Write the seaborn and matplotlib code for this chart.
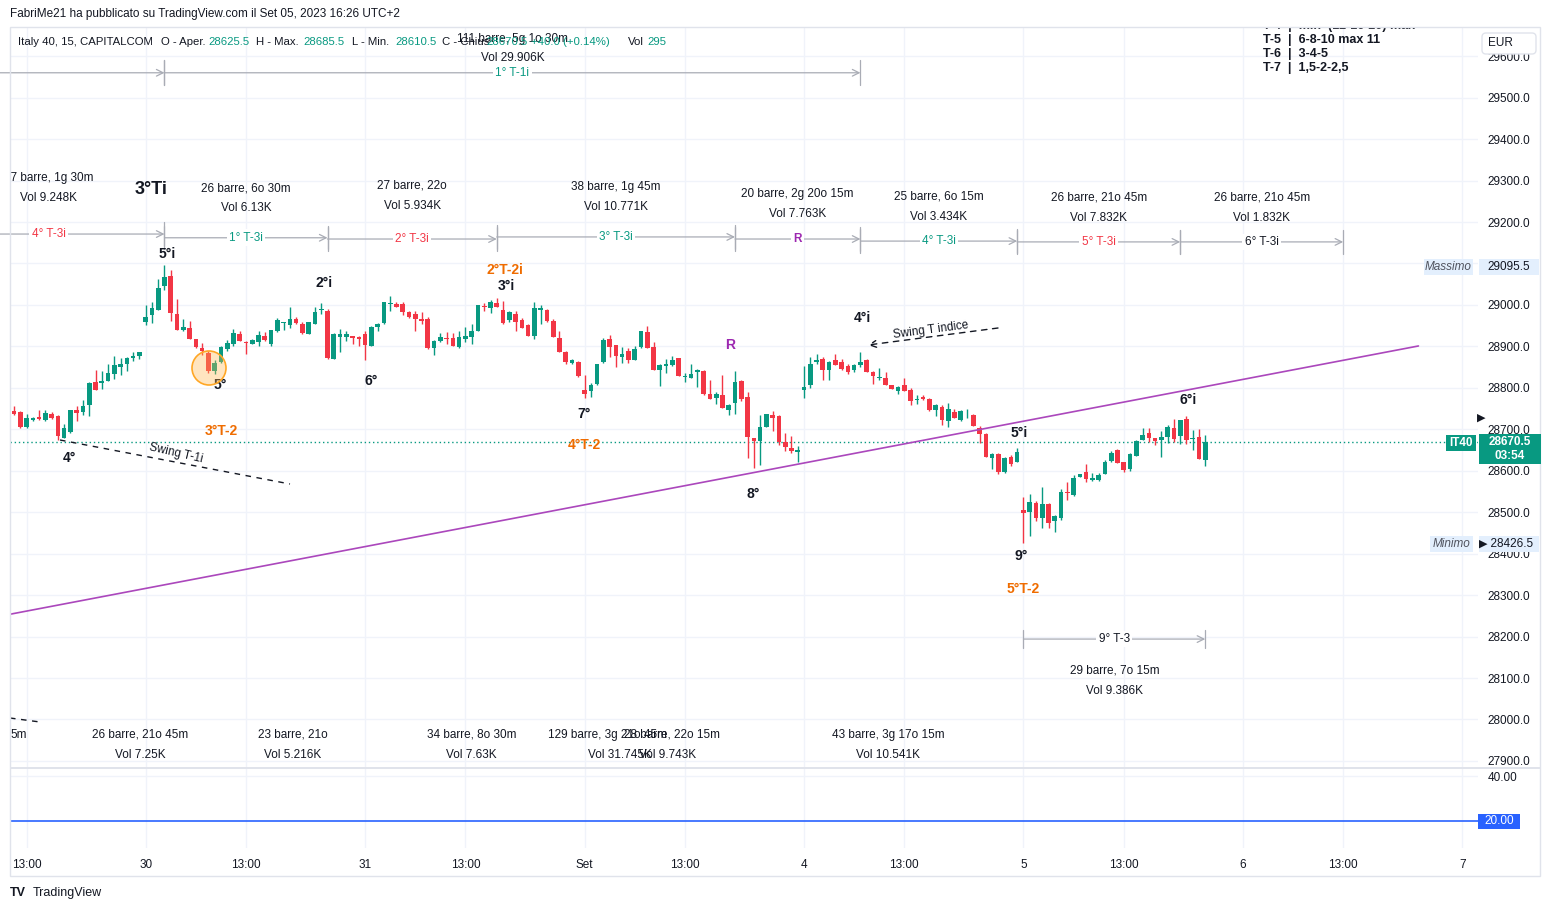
import numpy as np
import pandas as pd
import seaborn as sns
import matplotlib
matplotlib.use("Agg")
import matplotlib.pyplot as plt
from matplotlib.transforms import Affine2D
from matplotlib.patches import Circle, FancyBboxPatch, Rectangle

############## Data: Italy 40, 15m candles (29 Aug - 5 Sep) ##############
opens = [28743, 28741, 28705, 28723, 28729, 28722, 28737, 28731, 28680, 28693,
         28746, 28741, 28759, 28813, 28812, 28817, 28833, 28851, 28857, 28873, 28877,
         # 30
         28959, 28976, 28988, 29046, 29069, 28979, 28939, 28944, 28917, 28896,
         28884, 28840, 28863, 28893, 28905, 28929, 28911, 28906, 28911, 28925,
         28905, 28937, 28956, 28951, 28967, 28953, 28931, 28955, 28987, 28986,
         28870, 28923, 28923, 28925, 28923,
         # 31
         28929, 28901, 28947, 28956, 29002, 29002, 29002, 28983, 28977, 28966,
         28966, 28895, 28913, 28921, 28921, 28898, 28917, 28922, 28938, 28998,
         28992, 29004, 28988, 28964, 28979, 28964, 28952, 28926, 28987, 28987,
         28962, 28920, 28887, 28859, 28863,
         # Set 1
         28796, 28792, 28810, 28862, 28918, 28904, 28874, 28888, 28868, 28898,
         28934, 28899, 28844, 28852, 28854, 28873, 28826, 28823, 28838, 28840,
         28784, 28775, 28782, 28746, 28763, 28817, 28778, 28678, 28672, 28706,
         28734, 28732, 28670, 28656, 28646,
         # Set 4
         28796, 28806, 28862, 28870, 28844, 28868, 28862, 28853, 28842, 28854,
         28868, 28839, 28823, 28824, 28806, 28792, 28808, 28796, 28770, 28779,
         28773, 28746, 28753, 28720, 28742, 28723, 28736, 28734, 28704, 28688,
         28630, 28640, 28596, 28633, 28622,
         # Set 5
         28506, 28500, 28522, 28486, 28521, 28478, 28486, 28549, 28541, 28586,
         28598, 28577, 28578, 28591, 28624, 28649, 28622, 28605, 28636, 28675,
         28691, 28678, 28675, 28681, 28702, 28683, 28725, 28677, 28682, 28625.5]

highs = [28755, 28743, 28736, 28730, 28746, 28746, 28742, 28735, 28712, 28746,
         28757, 28771, 28814, 28843, 28840, 28857, 28877, 28873, 28874, 28886, 28886,
         29000, 29007, 29062, 29095.5, 29085, 29015, 28965, 28961, 28917, 28907,
         28890, 28868, 28900, 28915, 28943, 28937, 28912, 28919, 28937, 28935,
         28940, 28968, 28958, 28995, 28972, 28958, 28960, 28994, 29004, 28990,
         28932, 28941, 28937, 28925, 28925,
         28937, 28950, 28957, 29008, 29022, 29006, 29006, 28985, 28985, 28983,
         28970, 28916, 28932, 28935, 28933, 28938, 28946, 28954, 29000, 29005,
         29011, 29016, 29010, 28985, 28985, 28968, 28955, 29006, 29000, 28990,
         28965, 28938, 28890, 28870, 28864,
         28830, 28812, 28858, 28920, 28927, 28904, 28898, 28895, 28902, 28938,
         28948, 28910, 28858, 28870, 28878, 28873, 28836, 28858, 28845, 28842,
         28818, 28790, 28830, 28762, 28840, 28820, 28790, 28678, 28734, 28738,
         28743, 28735, 28692, 28684, 28660,
         28852, 28874, 28882, 28874, 28864, 28882, 28870, 28858, 28858, 28886,
         28870, 28840, 28848, 28838, 28808, 28805, 28823, 28800, 28782, 28782,
         28775, 28760, 28758, 28764, 28748, 28747, 28748, 28736, 28708, 28692,
         28642, 28642, 28632, 28637, 28656,
         28537, 28545, 28526, 28562, 28522, 28493, 28555, 28574, 28589, 28593,
         28617, 28594, 28594, 28626, 28648, 28652, 28622, 28643, 28674, 28702,
         28703, 28680, 28697, 28710, 28726, 28722, 28733, 28698, 28701, 28685.5]

lows = [28735, 28704, 28702, 28721, 28722, 28720, 28726, 28675, 28678, 28690,
        28720, 28734, 28733, 28795, 28798, 28816, 28822, 28830, 28840, 28864, 28869,
        28952, 28956, 28988, 29036, 28962, 28940, 28938, 28917, 28895, 28880,
        28835, 28834, 28860, 28890, 28900, 28913, 28881, 28905, 28900, 28914,
        28900, 28935, 28940, 28945, 28955, 28930, 28930, 28954, 28978, 28870,
        28870, 28887, 28912, 28905, 28900,
        28867, 28901, 28937, 28955, 28985, 28995, 28975, 28968, 28938, 28955,
        28894, 28880, 28910, 28906, 28900, 28897, 28910, 28906, 28938, 28985,
        28980, 28996, 28955, 28958, 28938, 28945, 28924, 28917, 28953, 28960,
        28922, 28886, 28858, 28858, 28825,
        28776, 28778, 28808, 28860, 28874, 28850, 28860, 28860, 28866, 28896,
        28896, 28842, 28804, 28836, 28852, 28828, 28814, 28823, 28802, 28782,
        28774, 28762, 28751, 28734, 28738, 28768, 28631, 28606, 28614, 28706,
        28696, 28662, 28648, 28644, 28620,
        28775, 28799, 28858, 28818, 28818, 28856, 28843, 28834, 28838, 28850,
        28838, 28810, 28820, 28806, 28798, 28784, 28792, 28758, 28761, 28770,
        28744, 28732, 28710, 28706, 28727, 28720, 28728, 28708, 28666, 28634,
        28604, 28592, 28594, 28611, 28620,
        28426.5, 28442, 28480, 28461, 28463, 28453, 28482, 28529, 28540, 28585,
        28574, 28575, 28576, 28591, 28622, 28618, 28598, 28600, 28636, 28675,
        28670, 28661, 28633, 28667, 28670, 28665, 28665, 28651, 28629, 28610.5]

closes = [28737, 28706, 28727, 28727, 28724, 28739, 28727, 28683, 28702, 28746,
          28740, 28756, 28811, 28795, 28816, 28835, 28854, 28857, 28871, 28876, 28886,
          28970, 28992, 29040, 29067, 28981, 28940, 28946, 28917, 28898, 28889,
          28840, 28860, 28898, 28909, 28933, 28913, 28907, 28915, 28928, 28915,
          28940, 28963, 28958, 28967, 28956, 28932, 28959, 28984, 28990, 28872,
          28929, 28930, 28929, 28920, 28918,
          28903, 28947, 28955, 29008, 29004, 28995, 28983, 28972, 28966, 28962,
          28897, 28914, 28923, 28917, 28902, 28923, 28926, 28938, 29000, 28994,
          29006, 28996, 28956, 28983, 28960, 28945, 28924, 28992, 28992, 28962,
          28922, 28886, 28862, 28868, 28828,
          28786, 28808, 28858, 28916, 28898, 28876, 28882, 28866, 28894, 28936,
          28896, 28842, 28856, 28858, 28868, 28828, 28828, 28834, 28842, 28784,
          28774, 28784, 28751, 28759, 28813, 28772, 28682, 28671, 28705, 28738,
          28728, 28670, 28658, 28648, 28650,
          28802, 28858, 28868, 28842, 28862, 28856, 28846, 28839, 28854, 28863,
          28838, 28828, 28827, 28806, 28798, 28803, 28792, 28768, 28772, 28772,
          28746, 28758, 28722, 28748, 28727, 28743, 28737, 28708, 28688, 28634,
          28641, 28596, 28630, 28617, 28646,
          28497, 28525, 28485, 28519, 28473, 28491, 28549, 28546, 28583, 28593,
          28579, 28583, 28590, 28622, 28643, 28618, 28603, 28641, 28672, 28686,
          28679, 28672, 28681, 28706, 28677, 28722, 28675, 28679, 28629, 28670.5]

tick_pos = [2, 21, 37, 56, 72, 91, 107, 126, 142, 161, 177, 196, 212, 231]
tick_lab = ["13:00", "30", "13:00", "31", "13:00", "Set", "13:00", "4",
            "13:00", "5", "13:00", "6", "13:00", "7"]

last_price = 28670.5
max_price = 29095.5
min_price = 28426.5
osc_level = 20.0

# purple trend line (bar index, price)
trend_x = [-0.6, 224]
trend_y = [28254, 28901]

# date-range tools, T-3i row
t3_bounds = [-13, 24, 50, 77, 115, 135, 160, 186, 212]
t3_levels = [29171, 29162, 29159, 29164, 29159, 29154, 29152, 29152]
t3_labels = ["4° T-3i", "1° T-3i", "2° T-3i", "3° T-3i", "R", "4° T-3i", "5° T-3i", "6° T-3i"]
t3_info = ["37 barre, 1g 30m", "26 barre, 6o 30m", "27 barre, 22o", "38 barre, 1g 45m",
           "20 barre, 2g 20o 15m", "25 barre, 6o 15m", "26 barre, 21o 45m", "26 barre, 21o 45m"]
t3_vol = ["Vol 9.248K", "Vol 6.13K", "Vol 5.934K", "Vol 10.771K",
          "Vol 7.763K", "Vol 3.434K", "Vol 7.832K", "Vol 1.832K"]
t3_info_y = [29306, 29282, 29287, 29285, 29268, 29261, 29258, 29258]

# T-1i row
t1_bounds = [-90, 24, 135]
t1_level = 29560

# 9° T-3
t9_bounds = [161, 190]
t9_level = 28194

# lower range texts (bar index of centre)
low_info = ["26 barre, 21o 45m", "23 barre, 21o", "34 barre, 8o 30m",
            "129 barre, 3g 21o 45m", "28 barre, 22o 15m", "43 barre, 3g 17o 15m"]
low_info_x = [20.1, 44.5, 73.0, 94.6, 105.0, 139.4]
low_vol = ["Vol 7.25K", "Vol 5.216K", "Vol 7.63K", "Vol 31.745K", "Vol 9.743K", "Vol 10.541K"]
low_vol_x = [20.1, 44.5, 73.0, 96.7, 104.3, 139.4]

############## Style ##############
TEAL = "#089981"
RED = "#F23645"
TXT = "#131722"
GRID = "#F0F3FA"
PURPLE = "#AB47BC"
ORANGE = "#EF6C00"
TOOL = "#A9ACB5"

sns.set_theme(style="white")
plt.rcParams["font.family"] = ["Liberation Sans", "DejaVu Sans"]
plt.rcParams["axes.unicode_minus"] = False

W, H = 1549, 911
fig = plt.figure(figsize=(W / 100, H / 100), dpi=100)
fig.patch.set_facecolor("white")
pxT = Affine2D().scale(1.0 / W, -1.0 / H).translate(0, 1) + fig.transFigure

ax = fig.add_axes([10 / W, 1 - 768 / H, 1468 / W, 740 / H])
ax2 = fig.add_axes([10 / W, 1 - 848 / H, 1468 / W, 80 / H], sharex=ax)

o = np.array(opens, dtype=float)
h = np.array(highs, dtype=float)
l = np.array(lows, dtype=float)
c = np.array(closes, dtype=float)
x = np.arange(len(c))
df = pd.DataFrame({"x": x, "o": o, "h": h, "l": l, "c": c})
cols = np.where(df.c >= df.o, TEAL, RED)

for a in (ax, ax2):
    a.set_facecolor("white")
    for s in a.spines.values():
        s.set_visible(False)
    a.set_xticks(tick_pos)
    for t in tick_pos:
        a.axvline(t, color=GRID, lw=1, zorder=0)

ax.set_xlim(-0.64, 233.5)
ax.set_ylim(27883, 29668)
yt = np.arange(27900, 29601, 100)
ax.set_yticks(yt)
for v in yt:
    ax.axhline(v, color=GRID, lw=1, zorder=0)
ax.yaxis.tick_right()
ax.set_yticklabels([f"{v:.1f}" for v in yt], fontsize=8.5, color=TXT)
ax.tick_params(axis="y", length=0, pad=7)
ax.tick_params(axis="x", length=0, labelbottom=False)

# candles
ax.vlines(df.x, df.l, df.h, colors=cols, lw=1, zorder=3)
body = np.maximum(np.abs(df.c - df.o), 2.0)
ax.bar(df.x, body, bottom=np.minimum(df.o, df.c), width=0.74, color=cols, lw=0, zorder=4)

# last price dotted line
ax.axhline(last_price, color=TEAL, lw=1, ls=(0, (1, 2)), zorder=2)

# trend line
sns.lineplot(x=trend_x, y=trend_y, ax=ax, color=PURPLE, lw=1.2, zorder=5)

############## Range tools ##############
def range_tool(x0, x1, y, tick_span):
    ax.annotate("", xy=(x1, y), xytext=(x0, y),
                arrowprops=dict(arrowstyle="->", color=TOOL, lw=0.9, shrinkA=0, shrinkB=0),
                annotation_clip=False, zorder=2)
    for xx in (x0, x1):
        ax.plot([xx, xx], [y - tick_span, y + tick_span], color=TOOL, lw=0.9, zorder=2)

seg_cols = [RED, TEAL, RED, TEAL, "#9C27B0", TEAL, RED, TXT]
for i, lab in enumerate(t3_labels):
    x0, x1 = t3_bounds[i], t3_bounds[i + 1]
    y = t3_levels[i]
    range_tool(x0, x1, y, 28)
    mid = (x0 + x1) / 2
    ax.text(mid, y, lab, fontsize=8.5, color=seg_cols[i], ha="center", va="center", zorder=6,
            fontweight="bold" if lab == "R" else "normal",
            bbox=dict(boxstyle="square,pad=0.2", fc="white", ec="none"), clip_on=True)
    ax.text(mid, t3_info_y[i], t3_info[i], fontsize=8.5, color=TXT, ha="center", va="center", clip_on=True)
    ax.text(mid, t3_info_y[i] - 48, t3_vol[i], fontsize=8.5, color=TXT, ha="center", va="center", clip_on=True)

for i in range(2):
    range_tool(t1_bounds[i], t1_bounds[i + 1], t1_level, 30)
mid = (t1_bounds[1] + t1_bounds[2]) / 2
ax.text(mid, t1_level, "1° T-1i", fontsize=8.5, color=TEAL, ha="center", va="center", zorder=6,
        bbox=dict(boxstyle="square,pad=0.2", fc="white", ec="none"))
ax.text(mid, t1_level + 36, "Vol 29.906K", fontsize=8.5, color=TXT, ha="center", va="center")
ax.text(mid, t1_level + 82, "111 barre, 5g 1o 30m", fontsize=8.5, color=TXT, ha="center", va="center")

range_tool(t9_bounds[0], t9_bounds[1], t9_level, 22)
mid = sum(t9_bounds) / 2
ax.text(mid, t9_level, "9° T-3", fontsize=8.5, color=TXT, ha="center", va="center", zorder=6,
        bbox=dict(boxstyle="square,pad=0.2", fc="white", ec="none"))
ax.text(mid, t9_level - 77, "29 barre, 7o 15m", fontsize=8.5, color=TXT, ha="center", va="center")
ax.text(mid, t9_level - 125, "Vol 9.386K", fontsize=8.5, color=TXT, ha="center", va="center")

for s, xx in zip(low_info, low_info_x):
    ax.text(xx, 27963, s, fontsize=8.5, color=TXT, ha="center", va="center")
for s, xx in zip(low_vol, low_vol_x):
    ax.text(xx, 27914, s, fontsize=8.5, color=TXT, ha="center", va="center")

############## Labels on the chart (pixel positions) ##############
def T(px, py, s, size=8.5, color=TXT, ha="center", weight="normal", rot=0, clip=True):
    ax.text(px, py, s, transform=pxT, fontsize=size, color=color, ha=ha, va="center",
            fontweight=weight, rotation=rot, clip_on=clip, zorder=7,
            rotation_mode="anchor")

T(10, 735, "5m", ha="left")
T(151, 190, "3°Ti", size=13, weight="bold")
for px, py, s in [(167, 254, "5°i"), (324, 283, "2°i"), (506, 286, "3°i"), (862, 318, "4°i"),
                  (1188, 400, "6°i"), (1019, 433, "5°i"), (69, 458, "4°"), (220, 385, "5°"),
                  (371, 381, "6°"), (584, 414, "7°"), (753, 494, "8°"), (1021, 556, "9°")]:
    T(px, py, s, size=10, weight="bold")
for px, py, s in [(505, 270, "2°T-2i"), (221, 431, "3°T-2"), (584, 445, "4°T-2"), (1023, 589, "5°T-2")]:
    T(px, py, s, size=10, color=ORANGE, weight="bold")
T(730, 345, "R", size=10, color="#9C27B0", weight="bold")

# swing drawings
ax.plot([60, 290], [440, 484], transform=pxT, color=TXT, lw=1, ls=(0, (4, 4)), zorder=6)
T(176, 453, "Swing T-1i", size=8.5, rot=-13)
ax.annotate("", xy=(868, 345), xytext=(998, 328), xycoords=pxT, textcoords=pxT,
            arrowprops=dict(arrowstyle="->", color=TXT, lw=1, ls=(0, (4, 4)), shrinkA=0, shrinkB=0))
T(931, 330, "Swing T indice", size=8.5, rot=7.5)
ax.plot([10, 40], [718, 722], transform=pxT, color=TXT, lw=1, ls=(0, (4, 4)), zorder=6)

circ = Circle((209, 368), 17, transform=pxT, fc="#FFB74D", ec="none", alpha=0.35, zorder=8)
ax.add_patch(circ)
circ2 = Circle((209, 368), 17, transform=pxT, fc="none", ec="#FFA726", lw=1.2, zorder=8)
ax.add_patch(circ2)

# header inside chart
hdr = [(18, "Italy 40, 15, CAPITALCOM", TXT), (161, "O - Aper.", TXT), (208, "28625.5", TEAL),
       (256, "H - Max.", TXT), (303, "28685.5", TEAL), (352, "L - Min.", TXT), (395, "28610.5", TEAL),
       (442, "C - Chius.", TXT), (486, "28670.5", TEAL), (531, "+40.0 (+0.14%)", TEAL),
       (628, "Vol", TXT), (647, "295", TEAL)]
for px, s, col in hdr:
    T(px, 42, s, size=8.2, color=col, ha="left")

# T legend top right (first line cut by frame)
for py, s in [(26, "T-4  |  min  (12-16-20) max"), (40, "T-5  |  6-8-10 max 11"),
              (54, "T-6  |  3-4-5"), (68, "T-7  |  1,5-2-2,5")]:
    T(1263, py, s, size=9, weight="bold", ha="left")

############## Lower pane ##############
ax2.set_ylim(8, 43.56)
ax2.set_yticks([40])
ax2.yaxis.tick_right()
ax2.set_yticklabels(["40.00"], fontsize=8.5, color=TXT)
ax2.axhline(40, color=GRID, lw=1, zorder=0)
ax2.axhline(osc_level, color="#2962FF", lw=1.2, zorder=3)
ax2.tick_params(axis="y", length=0, pad=7)
ax2.set_xticklabels(tick_lab, fontsize=8.5, color=TXT)
ax2.tick_params(axis="x", length=0, pad=8)

############## Frame, price-axis badges ##############
fig.add_artist(Rectangle((10, 27), 1530, 849, transform=pxT, fill=False, ec="#E0E3EB", lw=1))
fig.add_artist(Rectangle((10, 767), 1530, 2, transform=pxT, fc="#E0E3EB", ec="none"))

def badge(x0, y0, w, hgt, s, fc, tc, size=8.5, weight="normal", style="normal"):
    fig.add_artist(Rectangle((x0, y0), w, hgt, transform=pxT, fc=fc, ec="none", zorder=10))
    fig.text(x0 + w / 2, y0 + hgt / 2, s, transform=pxT, fontsize=size, color=tc, ha="center",
             va="center", fontweight=weight, style=style, zorder=11, linespacing=1.15)

fig.add_artist(FancyBboxPatch((1482, 33), 54, 21, boxstyle="round,pad=0,rounding_size=4",
                              transform=pxT, fc="white", ec="#E0E3EB", lw=1, zorder=10))
fig.text(1500, 43.5, "EUR", transform=pxT, fontsize=8.5, color=TXT, ha="center", va="center", zorder=11)

badge(1424, 259, 49, 16, "Massimo", "#E3EFFD", "#50535E", style="italic")
badge(1479, 259, 60, 16, f"{max_price:.1f}", "#E3EFFD", TXT)
badge(1430, 536, 43, 16, "Minimo", "#E3EFFD", "#50535E", style="italic")
badge(1479, 536, 60, 16, f"  {min_price:.1f}", "#E3EFFD", TXT)
badge(1446, 435, 30, 16, "IT40", TEAL, "white", weight="bold")
badge(1479, 434, 62, 30, f"{last_price:.1f}\n03:54", TEAL, "white", weight="bold")
badge(1478, 814, 42, 15, f"{osc_level:.2f}", "#2962FF", "white")
fig.text(1481, 418, "▶", transform=pxT, fontsize=8, color=TXT, ha="center", va="center",
         family="DejaVu Sans", zorder=11)
fig.text(1483, 544, "▶", transform=pxT, fontsize=8, color=TXT, ha="center", va="center",
         family="DejaVu Sans", zorder=12)

fig.text(10, 14, "FabriMe21 ha pubblicato su TradingView.com il Set 05, 2023 16:26 UTC+2",
         transform=pxT, fontsize=8.5, color=TXT, ha="left", va="center")
fig.text(10, 893, "TV", transform=pxT, fontsize=9, color=TXT, ha="left", va="center", fontweight="bold")
fig.text(33, 893, "TradingView", transform=pxT, fontsize=9, color=TXT, ha="left", va="center")

fig.savefig("out.png", dpi=100, facecolor="white")
